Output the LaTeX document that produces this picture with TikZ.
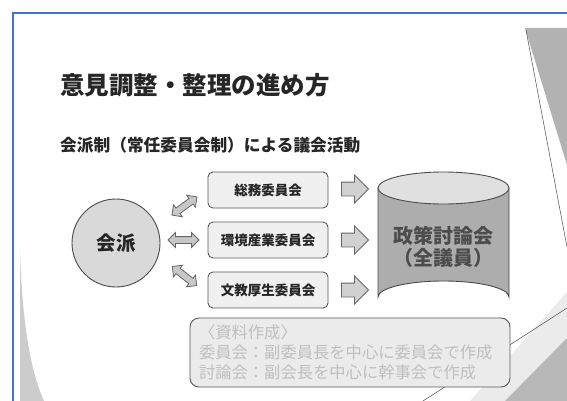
\documentclass[tikz,border=0pt]{standalone}
\usepackage{fontspec}
\setmainfont{Noto Sans CJK JP}
\usetikzlibrary{shapes.arrows}
\begin{document}
\begin{tikzpicture}[x=1pt,y=-1pt,
  comm/.style={draw=black!65, line width=0.9pt, fill=black!6, rounded corners=5pt,
    minimum width=120pt, minimum height=36pt, inner sep=0pt,
    font=\bfseries\fontsize{13.5}{16}\selectfont, text=black!85},
  rarrow/.style={single arrow, draw=black!60, fill=black!18, line width=0.8pt,
    minimum height=27pt, single arrow head extend=7pt,
    single arrow head indent=0pt, inner sep=0pt},
  darrow/.style={double arrow, draw=black!60, fill=black!22, line width=0.8pt,
    minimum height=31pt, double arrow head extend=4pt, inner sep=0pt},
  deco/.style={black!70, line width=0.5pt},
]
\useasboundingbox (0,0) rectangle (567,401);
\fill[white] (0,0) rectangle (567,401);
% background decorations
\fill[black!30] (525,28) -- (567,28) -- (567,165) -- cycle;
\draw[deco] (526,30) -- (567,247);
\fill[black!20] (20,250) .. controls (22,320) and (30,370) .. (44,401) -- (20,401) -- cycle;
\fill[black!8] (470,401) -- (567,292) -- (567,401) -- cycle;
\fill[black!28] (505,401) -- (567,338) -- (567,401) -- cycle;
\draw[deco] (423,401) -- (567,308);
% slide frame
\draw[color={rgb,255:red,68;green,114;blue,196}, line width=2.5pt] (13,401) -- (13,13) -- (567,13);
% titles
\node[anchor=west, inner sep=0pt, font=\bfseries\fontsize{24.5}{28}\selectfont, text=black!85] (title) at (60,85) {意見調整・整理の進め方};
\node[anchor=west, inner sep=0pt, font=\bfseries\fontsize{16.7}{20}\selectfont, text=black!85] (sub) at (60,145) {会派制（常任委員会制）による議会活動};
% faction circle
\node[circle, draw=black!70, fill=black!15, line width=0.9pt, minimum size=88pt, inner sep=0pt,
  font=\bfseries\fontsize{19.5}{22}\selectfont, text=black!85] (kaiha) at (116,243) {会派};
% committees
\node[comm] (b1) at (268,190) {総務委員会};
\node[comm] (b2) at (268,240) {環境産業委員会};
\node[comm] (b3) at (268,290) {文教厚生委員会};
% double arrows
\node[darrow, rotate=36] (d1) at (184.5,206) {\rule{0pt}{6pt}};
\node[darrow] (d2) at (183.5,240) {\rule{0pt}{6pt}};
\node[darrow, rotate=-38] (d3) at (184.5,276) {\rule{0pt}{6pt}};
% right arrows
\node[rarrow] (r1) at (351.5,189) {\rule{0pt}{13pt}};
\node[rarrow] (r2) at (351.5,240) {\rule{0pt}{13pt}};
\node[rarrow] (r3) at (351.5,290) {\rule{0pt}{13pt}};
% cylinder
\fill[black!32, draw=black!70, line width=0.9pt] (378,188) -- (378,297)
  arc[start angle=180, end angle=0, x radius=65.5pt, y radius=16pt] -- (509,188) -- cycle;
\fill[black!12, draw=black!70, line width=0.9pt] (443.5,188) ellipse[x radius=65.5pt, y radius=16pt];
\node[align=center, inner sep=0pt, font=\bfseries\fontsize{20}{22}\selectfont, text=black!70] (pc) at (443.5,247) {政策討論会\\（全議員）};
% notes box
\node[draw=black!65, fill=black!8, rounded corners=9pt, line width=0.9pt,
  text width=302pt, inner xsep=9pt, inner ysep=0pt, minimum height=69pt, align=left,
  font=\fontsize{16.3}{20}\selectfont, text=black!25] (notes) at (350,352.5)
  {〈資料作成〉\\委員会：副委員長を中心に委員会で作成\\討論会：副会長を中心に幹事会で作成};
\end{tikzpicture}
\end{document}
